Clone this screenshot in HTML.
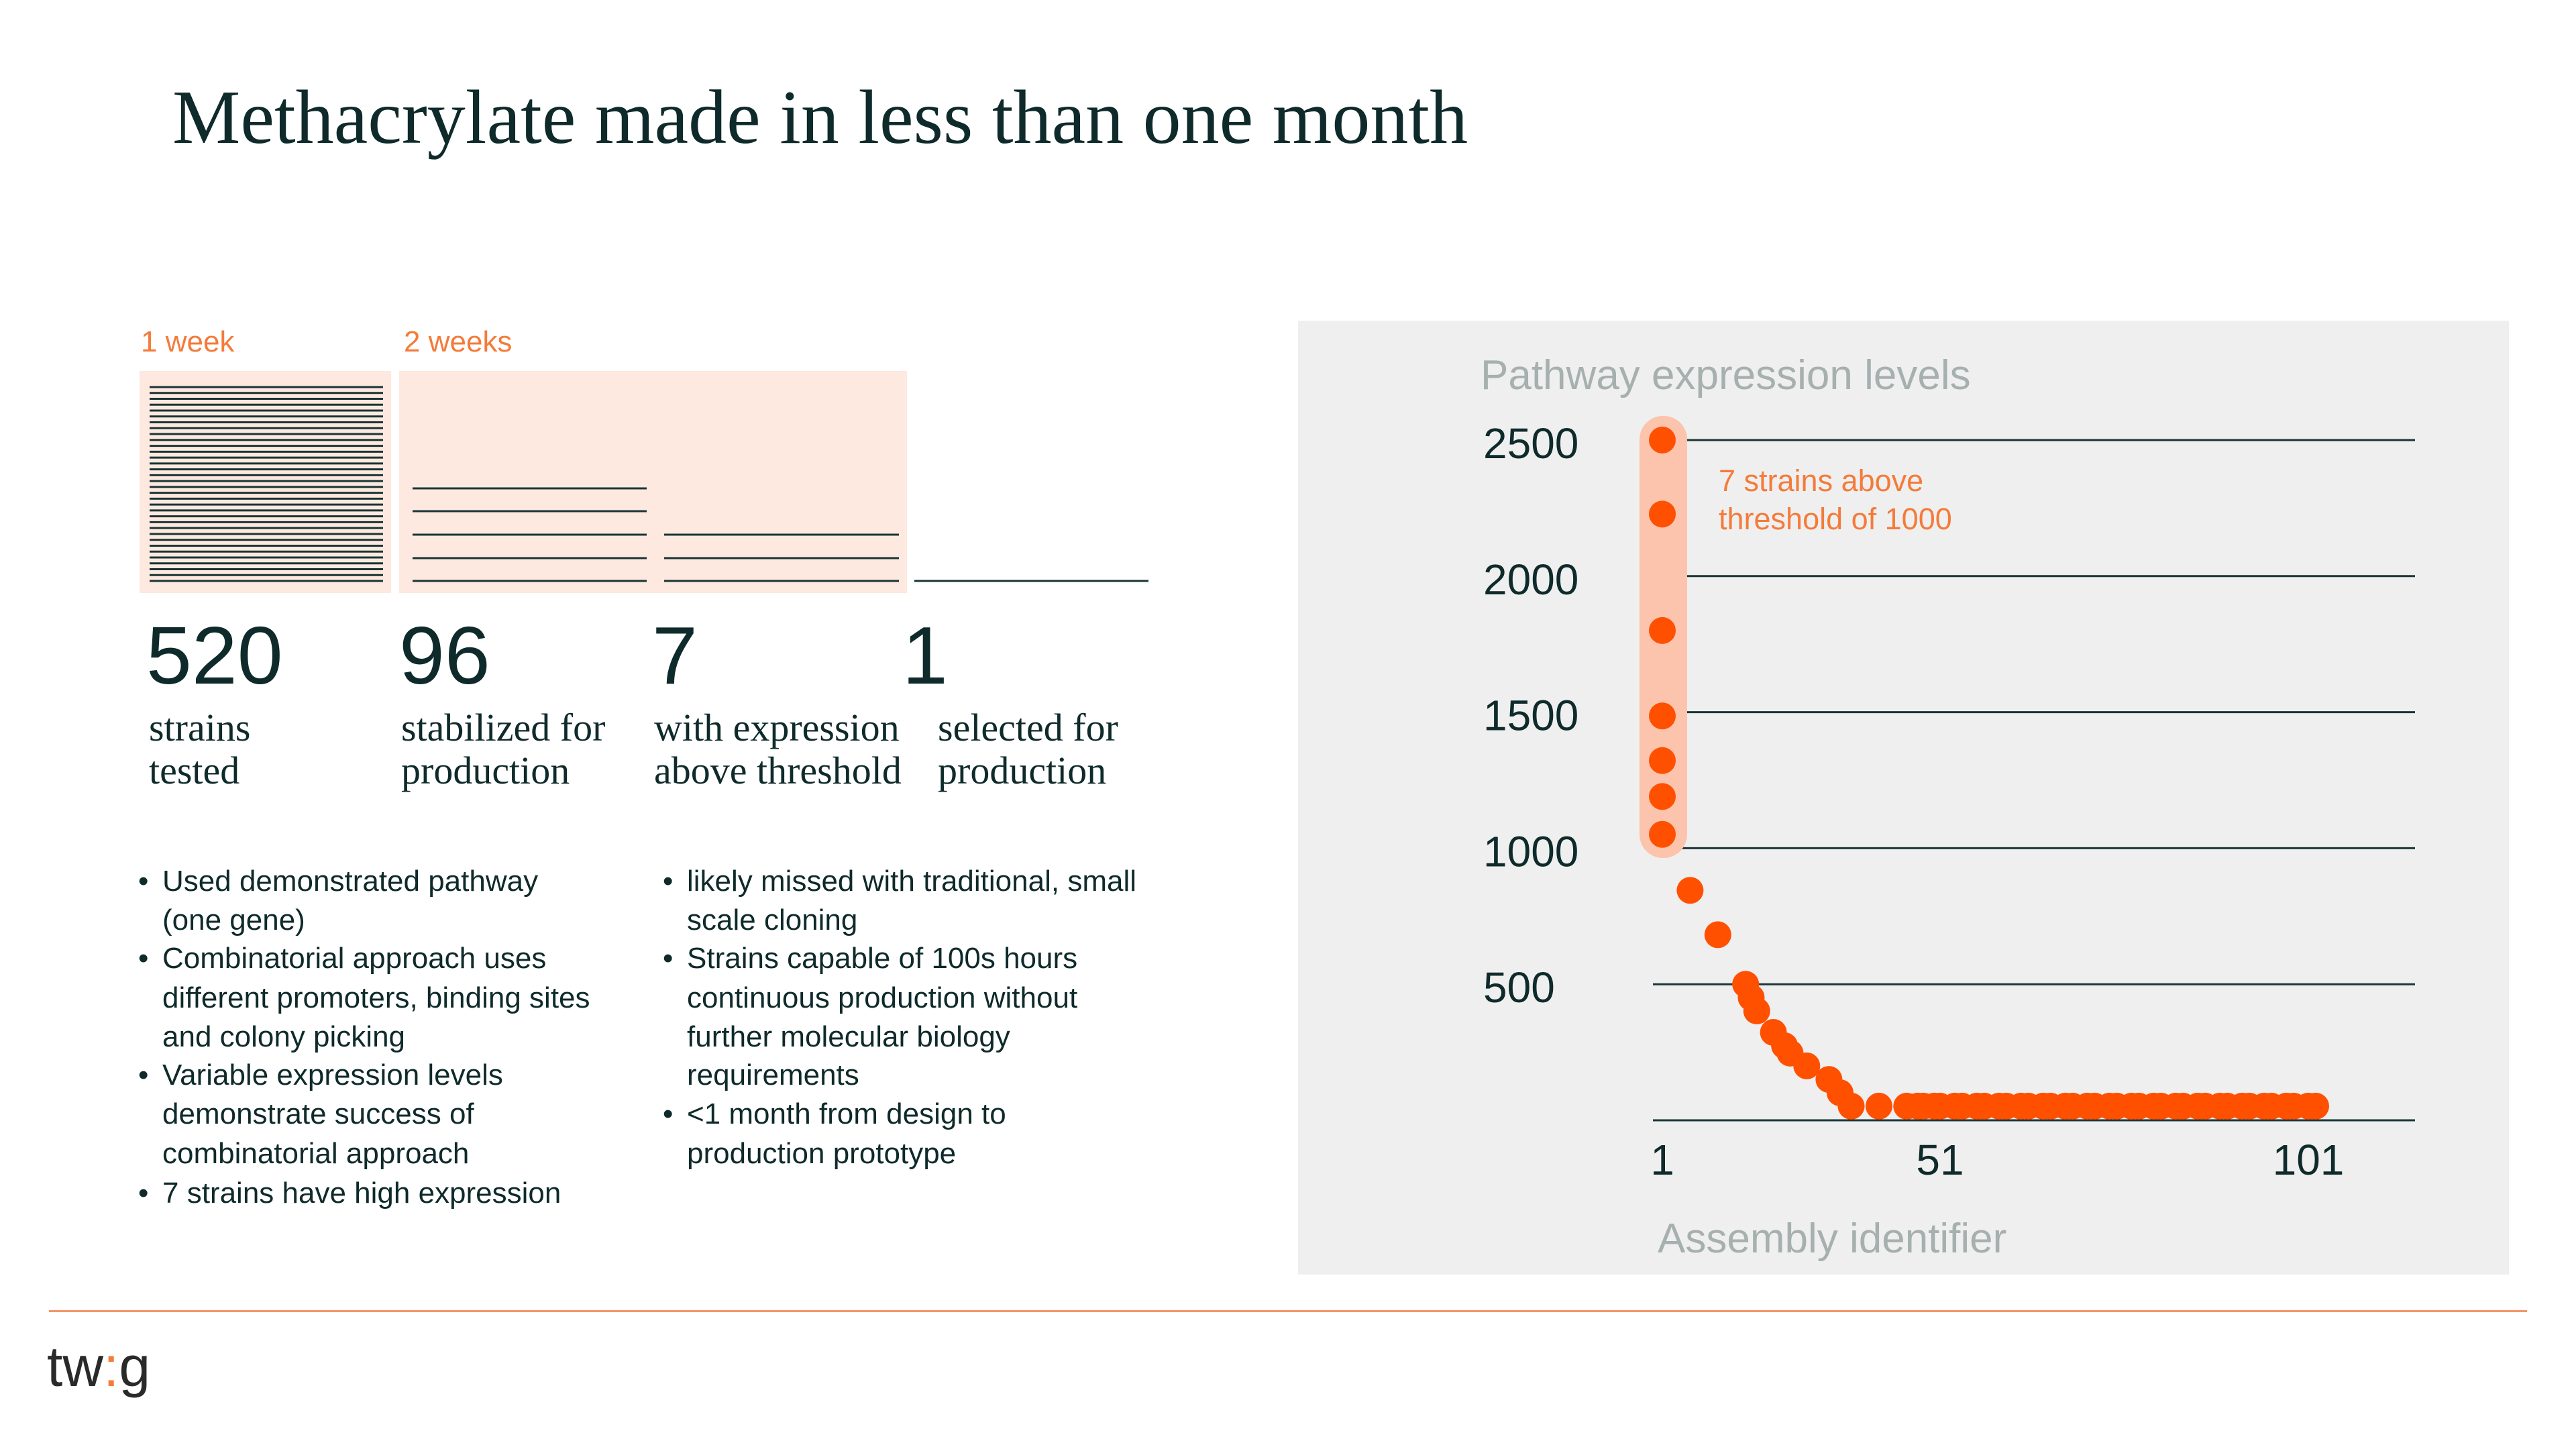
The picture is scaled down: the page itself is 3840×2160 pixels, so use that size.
<!DOCTYPE html>
<html><head><meta charset="utf-8"><style>
html,body{margin:0;padding:0;background:#fff;}
svg{display:block;}
.sans{font-family:"Liberation Sans",sans-serif;}
.serif{font-family:"Liberation Serif",serif;}
</style></head><body>
<svg id="page" width="3840" height="2160" viewBox="0 0 3840 2160" xmlns="http://www.w3.org/2000/svg">
<text class="serif" x="257" y="213" font-size="114" fill="#0f2a2a">Methacrylate made in less than one month</text>

<text class="sans" x="210" y="524" font-size="44" fill="#f47b3a">1 week</text>
<text class="sans" x="602" y="524" font-size="44" fill="#f47b3a">2 weeks</text>
<rect x="208" y="553" width="375" height="331" fill="#fde9df"/>
<rect x="595" y="553" width="757" height="331" fill="#fde9df"/>
<g id="funnel-lines" stroke="#1a3535" stroke-width="3"></g>

<g class="sans" font-size="122" fill="#0f2a2a">
<text x="218" y="1019">520</text>
<text x="595" y="1019">96</text>
<text x="972" y="1019">7</text>
<text x="1345" y="1019">1</text>
</g>
<g class="serif" font-size="58" fill="#0f2a2a">
<text x="222" y="1104">strains<tspan x="222" y="1168">tested</tspan></text>
<text x="598" y="1104">stabilized for<tspan x="598" y="1168">production</tspan></text>
<text x="975" y="1104">with expression<tspan x="975" y="1168">above threshold</tspan></text>
<text x="1398" y="1104">selected for<tspan x="1398" y="1168">production</tspan></text>
</g>

<g class="sans" font-size="44" fill="#0f2a2a">
<text x="206" y="1328">•</text><text x="242" y="1328">Used demonstrated pathway</text>
<text x="242" y="1386">(one gene)</text>
<text x="206" y="1443">•</text><text x="242" y="1443">Combinatorial approach uses</text>
<text x="242" y="1502">different promoters, binding sites</text>
<text x="242" y="1560">and colony picking</text>
<text x="206" y="1617">•</text><text x="242" y="1617">Variable expression levels</text>
<text x="242" y="1675">demonstrate success of</text>
<text x="242" y="1734">combinatorial approach</text>
<text x="206" y="1793">•</text><text x="242" y="1793">7 strains have high expression</text>
</g>
<g class="sans" font-size="44" fill="#0f2a2a">
<text x="988" y="1328">•</text><text x="1024" y="1328">likely missed with traditional, small</text>
<text x="1024" y="1386">scale cloning</text>
<text x="988" y="1443">•</text><text x="1024" y="1443">Strains capable of 100s hours</text>
<text x="1024" y="1502">continuous production without</text>
<text x="1024" y="1560">further molecular biology</text>
<text x="1024" y="1617">requirements</text>
<text x="988" y="1675">•</text><text x="1024" y="1675">&lt;1 month from design to</text>
<text x="1024" y="1734">production prototype</text>
</g>

<rect x="1935" y="478" width="1805" height="1422" fill="#efefef"/>
<text class="sans" x="2207" y="580" font-size="62" fill="#a6b0ae">Pathway expression levels</text>
<g id="grid"></g>
<rect x="2444" y="620" width="71" height="659" rx="35" fill="#fcc3ad"/>
<g id="ylabels"></g>
<g id="xlabels"></g>
<g id="dots"></g>
<text class="sans" x="2562" y="732" font-size="45" fill="#f47b3a">7 strains above<tspan x="2562" y="789">threshold of 1000</tspan></text>
<text class="sans" x="2471" y="1867" font-size="62" fill="#a6b0ae">Assembly identifier</text>

<rect x="73" y="1953" width="3694" height="3" fill="#f4956a"/>
<text class="sans" x="70" y="2066" font-size="84" fill="#2a2a2a">tw<tspan fill="#f47b3a">:</tspan>g</text>
</svg>
<script>
var NS="http://www.w3.org/2000/svg";
var yTicks=[0,500,1000,1500,2000,2500];
var yTickLabels=["","500","1000","1500","2000","2500"];
var xTicks=[1,51,101];
var xTickLabels=["1","51","101"];
var ids=[1,1,1,1,1,1,1,6,11,16,17,18,21,23,24,27,31,33,35,40,45,47,48,50,51,53,54,56,57,59,60,62,63,65,66,68,69,71,72,74,75,77,78,80,81,83,84,86,87,89,90,92,93,95,96,98,99,101,102];
var vals=[2500,2228,1800,1486,1322,1190,1051,845,682,500,451,402,323,274,247,200,150,101,52,52,52,52,52,52,52,52,52,52,52,52,52,52,52,52,52,52,52,52,52,52,52,52,52,52,52,52,52,52,52,52,52,52,52,52,52,52,52,52,52];
var lines1=34;
function yS(v){return 1670-v*0.4056;}
function xS(i){return i<=51 ? 2478+(i-1)*8.28 : 2892+(i-51)*10.98;}
function mk(t,a,p){var e=document.createElementNS(NS,t);for(var k in a)e.setAttribute(k,a[k]);p.appendChild(e);return e;}
var fl=document.getElementById('funnel-lines');
for(var i=0;i<lines1;i++){
 var y=577+i*(866-577)/(lines1-1);
 var l=mk('line',{x1:223,x2:571,y1:y,y2:y},fl);
 
 
}
[728,762,797,832,866].forEach(function(y){var l=mk('line',{x1:615,x2:964,y1:y,y2:y},fl);
 
 });
[797,832,866].forEach(function(y){var l=mk('line',{x1:990,x2:1340,y1:y,y2:y},fl);
 
 });
var sl=mk('line',{x1:1363,x2:1712,y1:866,y2:866},fl);


var g=document.getElementById('grid'),yl=document.getElementById('ylabels'),xl=document.getElementById('xlabels');
yTicks.forEach(function(v,i){
 var y=yS(v);
 var l=mk('line',{x1:2464,x2:3600,y1:y,y2:y,stroke:'#1a3535','stroke-width':3},g);
 
 
 if(yTickLabels[i]){var t=mk('text',{x:2211,y:y+27,'font-size':64,fill:'#0f2a2a','font-family':'Liberation Sans, sans-serif'},yl);t.textContent=yTickLabels[i];
 
 }
});
xTicks.forEach(function(v,i){
 var t=mk('text',{x:xS(v),y:1751,'font-size':64,fill:'#0f2a2a','text-anchor':'middle','font-family':'Liberation Sans, sans-serif'},xl);t.textContent=xTickLabels[i];
 
 
});
var d=document.getElementById('dots');
ids.forEach(function(id,i){
 var c=mk('circle',{cx:xS(id),cy:yS(vals[i]),r:20,fill:'#ff5000'},d);
 
 
});
</script>
</body></html>
